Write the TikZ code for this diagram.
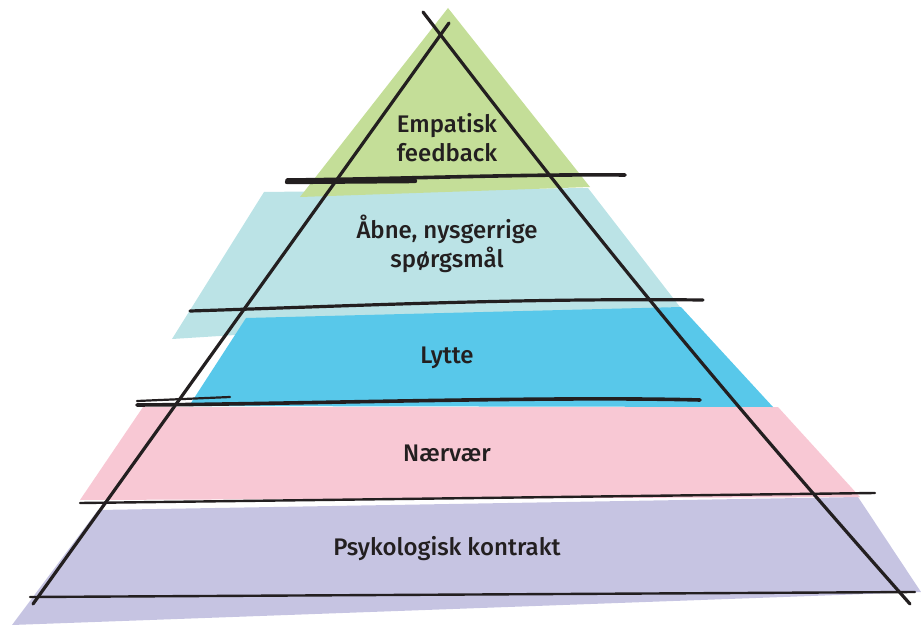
\documentclass[tikz,border=0pt]{standalone}
\usepackage{fontspec}
\setmainfont{Fira Sans Medium}
\usetikzlibrary{positioning}
\definecolor{topgreen}{HTML}{C4DE98}
\definecolor{palecyan}{HTML}{BBE3E6}
\definecolor{skyblue}{HTML}{58C8EA}
\definecolor{softpink}{HTML}{F8C8D4}
\definecolor{lavender}{HTML}{C6C4E2}
\definecolor{ink}{HTML}{231F20}
\tikzset{
  level/.style={font=\fontsize{24}{29}\selectfont,align=center,text=ink},
  pen/.style={draw=ink,line width=3.2pt,line cap=round},
  thinpen/.style={draw=ink,line width=2.4pt,line cap=round}
}

\begin{document}
\begin{tikzpicture}[x=1pt,y=-1pt]
\useasboundingbox (0,0) rectangle (921,626);
\fill[lavender] (98,510) -- (858,497) -- (921,592) -- (12,625) -- cycle;
\fill[softpink] (143,407) -- (778,407) -- (860,497) -- (80,500) -- cycle;
\fill[palecyan] (264,192) -- (588,188) -- (680,307) -- (172,339) -- cycle;
\fill[skyblue] (246,318) -- (681,307) -- (773,407) -- (189,406) -- cycle;
\fill[topgreen] (448,8) -- (590,187) -- (300,197) -- cycle;
\coordinate (apexl) at (449,23);
\coordinate (apexr) at (423,12);
\coordinate (footl) at (33,604);
\coordinate (footr) at (910,604);
\node[level] (n0) at (447,138) {Empatisk\\feedback};
\node[level] (n1) at (447,244) {Åbne, nysgerrige\\spørgsmål};
\node[level] (n2) at (447,358) {Lytte};
\node[level] (n3) at (447,453) {Nærvær};
\node[level] (n4) at (447,549) {Psykologisk kontrakt};
\draw[pen] (apexl) -- (footl);
\draw[pen] (apexr) to[bend right=2] (footr);
\draw[pen,line width=3.6pt] (287,180) .. controls (400,179) and (520,174) .. (625,175);
\draw[pen,line width=4.4pt] (287,182) -- (415,181);
\draw[pen] (190,311) .. controls (350,306) and (520,298) .. (703,300);
\draw[pen,line width=3.6pt] (137,405) .. controls (300,404) and (550,396) .. (700,400);
\draw[pen,line width=2.2pt] (137,401) -- (230,397);
\draw[thinpen] (80,503) -- (875,493);
\draw[thinpen] (30,597) -- (915,592);
\end{tikzpicture}
\end{document}
